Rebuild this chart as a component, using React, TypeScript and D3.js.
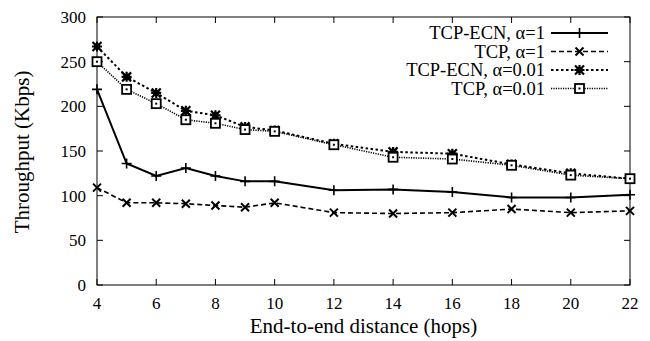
import { useEffect } from 'react';
import * as d3 from 'd3';

const hops = [4, 5, 6, 7, 8, 9, 10, 12, 14, 16, 18, 20, 22];
const ecnAlpha1 = [219, 136, 122, 131, 122, 116, 116, 106, 107, 104, 98, 98, 101];
const tcpAlpha1 = [109, 92, 92, 91, 89, 87, 92, 81, 80, 81, 85, 81, 83];
const ecnAlpha001 = [267, 233, 215, 195, 190, 177, 173, 158, 149, 147, 135, 125, 119];
const tcpAlpha001 = [250, 219, 203, 185, 181, 174, 172, 157, 143, 141, 134, 123, 119];
const seriesNames = ['TCP-ECN, \u03b1=1', 'TCP, \u03b1=1', 'TCP-ECN, \u03b1=0.01', 'TCP, \u03b1=0.01'];
const xTicks = [4, 6, 8, 10, 12, 14, 16, 18, 20, 22];
const yTicks = [0, 50, 100, 150, 200, 250, 300];

const FONT = 'Liberation Serif';

const width = 650, height = 341;
const margin = { top: 17, right: 20, bottom: 56, left: 97 };
const innerWidth = width - margin.left - margin.right;
const innerHeight = height - margin.top - margin.bottom;

const x = d3.scaleLinear().domain([4, 22]).range([0, innerWidth]);
const y = d3.scaleLinear().domain([0, 300]).range([innerHeight, 0]);

const series = [
    { values: ecnAlpha1, dash: undefined, width: 2, marker: 'plus' },
    { values: tcpAlpha1, dash: '5,3', width: 1.6, marker: 'cross' },
    { values: ecnAlpha001, dash: '2.5,2.5', width: 2, marker: 'star' },
    { values: tcpAlpha001, dash: '1.2,1.2', width: 1.6, marker: 'box' },
];

function Marker({ kind, cx, cy }: { kind: string; cx: number; cy: number }) {
    return (
        <g transform={`translate(${cx},${cy})`}>
            {kind === 'plus' && <path d="M-5,0H5M0,-5V5" stroke="black" strokeWidth={1.6} />}
            {kind === 'cross' && <path d="M-4,-4L4,4M-4,4L4,-4" stroke="black" strokeWidth={2} />}
            {kind === 'star' && (
                <>
                    <path d="M-4.5,-4.5L4.5,4.5M-4.5,4.5L4.5,-4.5M-5,0H5M0,-5V5" stroke="black" strokeWidth={2.2} />
                    <rect x={-3} y={-3} width={6} height={6} fill="black" />
                </>
            )}
            {kind === 'box' && (
                <>
                    <rect x={-4.5} y={-4.5} width={9} height={9} fill="white" stroke="black" strokeWidth={1.8} />
                    <rect x={-1} y={-1} width={2} height={2} fill="black" />
                </>
            )}
        </g>
    );
}

export default function App() {
    useEffect(() => {
        document.body.style.margin = '0';
    }, []);

    const line = d3.line<number>().x((_, i) => x(hops[i])).y(d => y(d));
    const tickLen = 6;
    const legendY = [33, 51.5, 70, 88.5];

    return (
        <svg width={width} height={height} style={{ display: 'block', background: 'white' }}>
            <g transform={`translate(${margin.left},${margin.top})`}>
                <rect width={innerWidth} height={innerHeight} fill="none" stroke="black" strokeWidth={1} />
                {xTicks.map(t => (
                    <g key={'x' + t}>
                        <line x1={x(t)} x2={x(t)} y1={innerHeight} y2={innerHeight - tickLen} stroke="black" />
                        <line x1={x(t)} x2={x(t)} y1={0} y2={tickLen} stroke="black" />
                        <text x={x(t)} y={innerHeight + 23.5} textAnchor="middle" fontFamily={FONT} fontSize={17}>{t}</text>
                    </g>
                ))}
                {yTicks.map(t => (
                    <g key={'y' + t}>
                        <line x1={0} x2={tickLen} y1={y(t)} y2={y(t)} stroke="black" />
                        <line x1={innerWidth} x2={innerWidth - tickLen} y1={y(t)} y2={y(t)} stroke="black" />
                        <text x={-11} y={y(t)} dy="0.35em" textAnchor="end" fontFamily={FONT} fontSize={17}>{t}</text>
                    </g>
                ))}
                <text x={innerWidth / 2} y={innerHeight + 47.5} textAnchor="middle" fontFamily={FONT} fontSize={21}>
                    End-to-end distance (hops)
                </text>
                <text transform={`translate(${-68.5},${innerHeight / 2 + 1}) rotate(-90)`} textAnchor="middle" fontFamily={FONT} fontSize={21}>
                    Throughput (Kbps)
                </text>
                {series.map((s, si) => (
                    <g key={'s' + si}>
                        <path d={line(s.values) ?? ''} fill="none" stroke="black" strokeWidth={s.width} strokeDasharray={s.dash} />
                        {s.values.map((v, i) => <Marker key={i} kind={s.marker} cx={x(hops[i])} cy={y(v)} />)}
                    </g>
                ))}
            </g>
            {series.map((s, i) => (
                <g key={'l' + i}>
                    <text x={545} y={legendY[i]} dy="0.35em" textAnchor="end" fontFamily={FONT} fontSize={18.5}>{seriesNames[i]}</text>
                    <line x1={551} x2={608} y1={legendY[i]} y2={legendY[i]} stroke="black" strokeWidth={s.width} strokeDasharray={s.dash} />
                    <Marker kind={s.marker} cx={579.5} cy={legendY[i]} />
                </g>
            ))}
        </svg>
    );
}
